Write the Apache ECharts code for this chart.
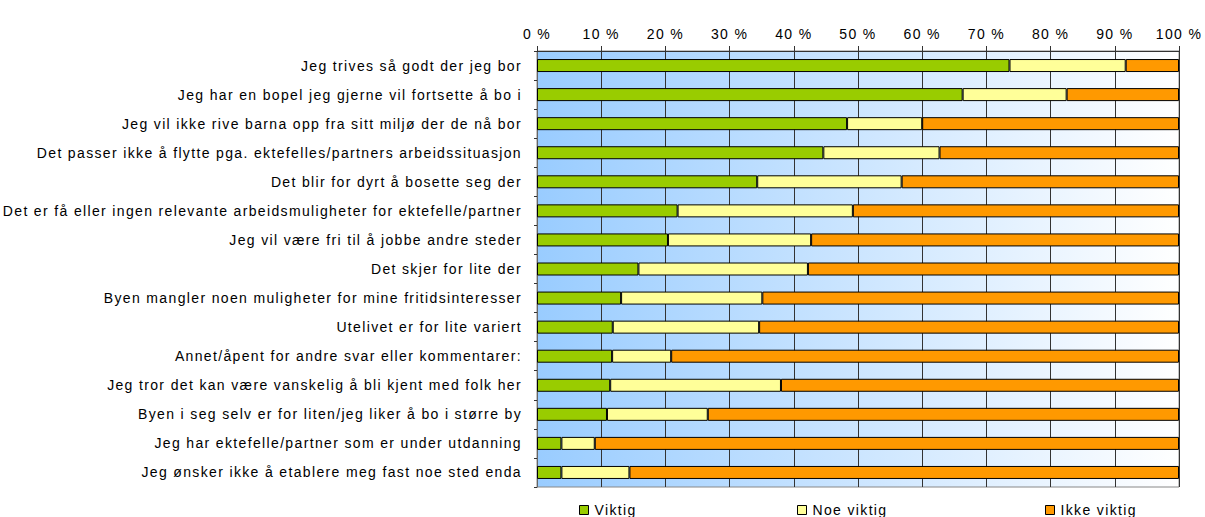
<!DOCTYPE html>
<html>
<head>
<meta charset="utf-8">
<script src="https://cdn.jsdelivr.net/npm/echarts@6/dist/echarts.min.js"></script>
<style>
  html, body { margin: 0; padding: 0; background: #fff; }
  #chart { width: 1205px; height: 517px; }
  /* the original text is rendered with loose spacing */
  #chart text { letter-spacing: 1.35px; }
</style>
</head>
<body>
<div id="chart"></div>
<script>
// categories, top to bottom
var categories = [
  'Jeg trives så godt der jeg bor',
  'Jeg har en bopel jeg gjerne vil fortsette å bo i',
  'Jeg vil ikke rive barna opp fra sitt miljø der de nå bor',
  'Det passer ikke å flytte pga. ektefelles/partners arbeidssituasjon',
  'Det blir for dyrt å bosette seg der',
  'Det er få eller ingen relevante arbeidsmuligheter for ektefelle/partner',
  'Jeg vil være fri til å jobbe andre steder',
  'Det skjer for lite der',
  'Byen mangler noen muligheter for mine fritidsinteresser',
  'Utelivet er for lite variert',
  'Annet/åpent for andre svar eller kommentarer:',
  'Jeg tror det kan være vanskelig å bli kjent med folk her',
  'Byen i seg selv er for liten/jeg liker å bo i større by',
  'Jeg har ektefelle/partner som er under utdanning',
  'Jeg ønsker ikke å etablere meg fast noe sted enda'
];

var viktig     = [73.6, 66.3, 48.3, 44.6, 34.3, 21.9, 20.4, 15.8, 13.1, 11.8, 11.7, 11.4, 10.9, 3.8, 3.8];
var noeViktig  = [18.1, 16.2, 11.7, 18.1, 22.5, 27.3, 22.3, 26.4, 22.0, 22.8, 9.2, 26.6, 15.7, 5.2, 10.6];
var ikkeViktig = [8.3, 17.5, 40.0, 37.3, 43.2, 50.8, 57.3, 57.8, 64.9, 65.4, 79.1, 62.0, 73.4, 91.0, 85.6];

var tickLabels = ['0 %', '10 %', '20 %', '30 %', '40 %', '50 %', '60 %', '70 %', '80 %', '90 %', '100 %'];

var font = 'Arial, "Liberation Sans", sans-serif';
var chart = echarts.init(document.getElementById('chart'), null, { renderer: 'svg' });

function bar(name, data, color) {
  return {
    name: name,
    type: 'bar',
    stack: 'total',
    data: data,
    barWidth: 13,
    itemStyle: { color: color, borderColor: '#000', borderWidth: 1 }
  };
}

function legendAt(name, left) {
  return {
    data: [name],
    left: left,
    top: 503,
    itemWidth: 9,
    itemHeight: 9,
    itemGap: 6,
    padding: 0,
    icon: 'rect',
    itemStyle: { borderColor: '#000', borderWidth: 1 },
    textStyle: { fontFamily: font, fontSize: 14, color: '#000', padding: [0, 0, 0, 1] }
  };
}

chart.setOption({
  animation: false,
  grid: {
    left: 537, right: 26, top: 51, bottom: 30,
    show: true,
    borderColor: '#888',
    borderWidth: 1,
    backgroundColor: new echarts.graphic.LinearGradient(0, 0, 1, 0, [
      { offset: 0, color: '#99CCFF' },
      { offset: 1, color: '#FFFFFF' }
    ])
  },
  legend: [
    legendAt('Viktig', 579),
    legendAt('Noe viktig', 797),
    legendAt('Ikke viktig', 1045)
  ],
  xAxis: {
    type: 'value',
    position: 'top',
    min: 0,
    max: 100,
    interval: 10,
    axisLine: { show: true, lineStyle: { color: '#333', width: 1 } },
    axisTick: { show: true, length: 5, lineStyle: { color: '#333' } },
    splitLine: { show: true, lineStyle: { color: '#333', width: 1 } },
    axisLabel: {
      fontFamily: font, fontSize: 14, color: '#000', margin: 10,
      formatter: function (v) { return tickLabels[Math.round(v / 10)]; }
    }
  },
  yAxis: {
    type: 'category',
    inverse: true,
    data: categories,
    axisLine: { show: true, lineStyle: { color: '#666' } },
    axisTick: { show: true, length: 3, lineStyle: { color: '#333' } },
    axisLabel: { fontFamily: font, fontSize: 14, color: '#000', margin: 15 }
  },
  series: [
    bar('Viktig', viktig, '#99CC00'),
    bar('Noe viktig', noeViktig, '#FFFF99'),
    bar('Ikke viktig', ikkeViktig, '#FF9900')
  ]
});
</script>
</body>
</html>
